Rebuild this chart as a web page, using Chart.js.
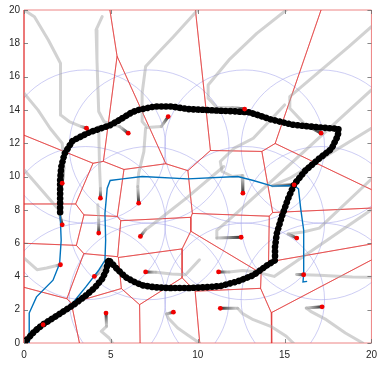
<!DOCTYPE html>
<html>
<head>
<meta charset="utf-8">
<script src="https://cdn.jsdelivr.net/npm/chart.js@4/dist/chart.umd.min.js"></script>
<style>
html,body{margin:0;padding:0;background:#fff;}
#wrap{width:383px;height:366px;}
</style>
</head>
<body>
<div id="wrap"><canvas id="c" width="383" height="366"></canvas></div>
<script>
// Axis ticks
const xTicks = [0, 5, 10, 15, 20];
const yTicks = [0, 2, 4, 6, 8, 10, 12, 14, 16, 18, 20];

// Current agent positions
const agents = [
  [3.6, 12.9], [6.0, 12.6], [8.3, 13.6], [12.7, 14.05], [17.1, 12.6],
  [2.2, 9.6], [4.4, 8.7], [6.6, 8.4], [12.6, 9.0], [15.55, 9.5],
  [2.2, 7.1], [4.3, 6.6], [6.7, 6.4], [12.5, 6.35], [15.7, 6.3],
  [2.1, 4.7], [4.05, 4.0], [7.0, 4.27], [11.2, 4.27], [16.1, 4.1],
  [1.1, 1.1], [4.72, 1.8], [8.6, 1.85], [11.3, 2.08], [17.16, 2.17]
];

// Sensor range circles
const sensorCols = [3.55, 7.2, 12.7, 17.1];
const sensorRows = [11.8, 7.2, 2.6];
const sensingRadius = 4.6;

// Past trajectories of each agent (oldest first, ending at the agent)
const trails = [
  [[0,20],[0.6,19.6],[1.4,18.2],[1.8,17.4],[2.1,16.8],[2.1,13.7],[2.6,13.3],[3.3,13.0],[3.6,12.9]],
  [[4.5,19.6],[4.15,18.8],[4.2,17.0],[4.3,13.9],[4.6,13.3],[5.5,13.0],[6.0,12.6]],
  [[10,20],[8.6,18.4],[7.7,17.4],[7.0,16.6],[6.8,15.0],[6.8,13.3],[7.1,12.95],[7.9,13.0],[8.3,13.6]],
  [[15.1,20],[13.4,18.6],[11.8,17.0],[10.6,15.5],[10.6,14.7],[11.1,14.15],[12.0,14.15],[12.7,14.05]],
  [[20,19.0],[18.7,17.8],[15.3,14.8],[15.3,14.1],[16.2,13.1],[17.1,12.6]],
  [[0,15.0],[0.8,14.0],[1.5,12.9],[2.2,12.0],[2.3,10.5],[2.2,9.6]],
  [[4.3,13.0],[4.35,10.5],[4.4,9.3],[4.4,8.7]],
  [[7.0,12.9],[6.9,11.5],[6.6,10.2],[6.55,9.4],[6.6,8.4]],
  [[15.0,14.3],[13.2,12.3],[12.1,11.7],[11.3,10.9],[11.4,10.3],[12.0,10.0],[12.56,10.06],[12.6,9.0]],
  [[20,12.9],[15.3,9.9],[14.3,9.45],[15.55,9.5]],
  [[0,10.4],[0.5,9.8],[2.0,8.0],[2.2,7.1]],
  [[4.25,8.3],[4.3,7.4],[4.3,6.6]],
  [[11.5,10.6],[9.4,8.75],[8.0,7.6],[7.0,6.8],[6.7,6.4]],
  [[20,15.2],[12.3,7.86],[11.1,6.77],[11.1,6.3],[12.5,6.35]],
  [[20,9.85],[17.0,6.9],[16.06,6.67],[15.2,6.55],[15.7,6.3]],
  [[0,5.1],[0.75,4.4],[1.3,4.5],[1.9,4.65],[2.1,4.7]],
  [[4.6,4.6],[4.3,4.2],[4.05,4.0]],
  [[10.1,5.0],[9.3,4.1],[8.5,4.15],[7.6,4.25],[7.0,4.27]],
  [[20,8.0],[14.4,4.0],[13.2,4.3],[12.6,4.35],[11.8,4.27],[11.2,4.27]],
  [[20,3.95],[18.9,3.97],[17.0,4.07],[15.7,4.12],[16.1,4.1]],
  [[1.1,1.1]],
  [[5.1,0],[4.9,0.3],[4.45,0.7],[4.75,1.0],[4.72,1.8]],
  [[10.1,0],[9.4,0.5],[8.85,0.9],[8.3,1.5],[8.2,1.75],[8.6,1.85]],
  [[15.5,0],[15.1,0.4],[14.2,1.0],[13.2,1.4],[12.56,1.78],[12.3,2.08],[11.3,2.08]],
  [[19.5,0],[18.5,0.6],[17.4,1.4],[16.5,1.9],[16.25,2.1],[17.16,2.17]]
];

// Leader path (black markers)
const leaderPath = [
  [0,0],[0.3,0.35],[0.6,0.7],[1.1,1.12],[1.9,1.65],[2.8,2.25],[3.5,2.8],[4.1,3.35],[4.5,3.85],[4.75,4.4],[4.85,5.0],
  [4.98,4.87],[5.4,4.4],[5.83,3.97],[6.3,3.7],[6.78,3.47],[7.3,3.38],[7.73,3.33],[8.5,3.3],[9.43,3.3],[10.5,3.35],[11.3,3.42],[12.3,3.7],[13.2,4.07],[14.0,4.67],[14.45,4.97],
  [14.45,5.77],[14.55,6.57],[14.83,7.56],[15.2,8.66],[15.55,9.52],
  [16.2,10.36],[16.97,11.06],[17.7,11.66],[18.07,12.46],[18.1,12.86],
  [16.97,12.95],[15.45,13.11],[14.13,13.45],[13.0,13.85],[12.0,13.92],[11.3,13.95],[10.4,14.0],[9.43,14.05],[8.5,14.2],[7.5,14.2],[6.6,14.0],[6.2,13.85],[5.5,13.4],[4.9,13.05],[4.3,12.85],[3.75,12.65],[2.8,12.15],[2.33,11.36],[2.14,10.56],[2.08,9.76],[2.08,8.8],[2.08,7.8]
];

// Reference routes (blue)
const routeA = [
  [2.7,2.27],[3.56,3.37],[4.3,4.37],[4.66,4.97],[4.7,6.17],[4.66,7.77],[4.79,9.3],[4.96,9.76],[5.68,9.86],[6.8,10.0],[9.43,9.86],[12.3,10.0],[13.2,9.76],[14.3,9.42],[15.55,9.46],[15.8,9.26],[15.93,8.06],[16.1,6.77],[16.1,5.77],[16.1,4.17],[16.06,3.67],[16.3,3.7]
];
const routeB = [
  [2.08,7.8],[2.14,6.17],[2.05,4.77],[1.67,3.77],[0.72,2.77],[0.3,1.8],[0.3,0]
];

const XMIN = 0, XMAX = 20, YMIN = 0, YMAX = 20;

// Voronoi cells by clipping the domain box with perpendicular bisectors
function clipHalf(poly, a, b) {
  const mx = (a[0] + b[0]) / 2, my = (a[1] + b[1]) / 2;
  const dx = b[0] - a[0], dy = b[1] - a[1];
  const f = p => (p[0] - mx) * dx + (p[1] - my) * dy;
  const out = [];
  for (let i = 0; i < poly.length; i++) {
    const p = poly[i], q = poly[(i + 1) % poly.length];
    const fp = f(p), fq = f(q);
    if (fp <= 0) out.push(p);
    if ((fp < 0 && fq > 0) || (fp > 0 && fq < 0)) {
      const t = fp / (fp - fq);
      out.push([p[0] + t * (q[0] - p[0]), p[1] + t * (q[1] - p[1])]);
    }
  }
  return out;
}
function voronoiCells(sites) {
  return sites.map((s, i) => {
    let poly = [[XMIN, YMIN], [XMAX, YMIN], [XMAX, YMAX], [XMIN, YMAX]];
    sites.forEach((o, j) => { if (j !== i) poly = clipHalf(poly, s, o); });
    return poly;
  });
}

const canvas = document.getElementById('c');
const ctx2d = canvas.getContext('2d');
const toXY = arr => arr.map(p => ({ x: p[0], y: p[1] }));
const datasets = [];

// red agent markers on top
datasets.push({
  data: toXY(agents), showLine: false, pointRadius: 2.4, pointBorderWidth: 0,
  pointBackgroundColor: 'rgb(240,0,0)', order: 0
});
// leader path: beads along a thinner core line
datasets.push({
  data: toXY(leaderPath), showLine: true, borderColor: '#000', borderWidth: 6.6,
  borderDash: [0.01, 4.6], borderCapStyle: 'round', borderJoinStyle: 'round',
  pointRadius: 0, order: 1
});
datasets.push({
  data: toXY(leaderPath), showLine: true, borderColor: '#000', borderWidth: 4.2,
  borderJoinStyle: 'round', borderCapStyle: 'round', pointRadius: 0, order: 1
});
// blue routes
[routeA, routeB].forEach(r => datasets.push({
  data: toXY(r), showLine: true, borderColor: 'rgb(0,114,189)', borderWidth: 1.4,
  pointRadius: 0, order: 2
}));
// trails: light grey, darkening into the last segment
trails.forEach(t => {
  if (t.length < 2) return;
  const n = t.length;
  datasets.push({
    data: toXY(t), showLine: true, borderColor: 'rgba(165,165,165,0.5)', borderWidth: 3,
    borderJoinStyle: 'round', borderCapStyle: 'round', pointRadius: 0, order: 3,
    segment: {
      borderColor: sc => {
        if (sc.p1DataIndex !== n - 1) return undefined;
        const g = ctx2d.createLinearGradient(sc.p0.x, sc.p0.y, sc.p1.x, sc.p1.y);
        g.addColorStop(0, 'rgba(165,165,165,0.5)');
        g.addColorStop(1, 'rgba(25,25,25,0.95)');
        return g;
      }
    }
  });
});
// Voronoi edges
voronoiCells(agents).forEach(cell => {
  datasets.push({
    data: toXY(cell.concat([cell[0]])), showLine: true, borderColor: 'rgba(225,50,50,0.8)',
    borderWidth: 0.75, pointRadius: 0, order: 4, clip: false
  });
});

// sensor circles underneath everything
const circlePlugin = {
  id: 'sensing',
  beforeDatasetsDraw(chart) {
    const { ctx, chartArea, scales: { x, y } } = chart;
    ctx.save();
    ctx.beginPath();
    ctx.rect(chartArea.left, chartArea.top, chartArea.width, chartArea.height);
    ctx.clip();
    ctx.strokeStyle = 'rgba(165,165,235,0.75)';
    ctx.lineWidth = 0.75;
    const rx = Math.abs(x.getPixelForValue(sensingRadius) - x.getPixelForValue(0));
    const ry = Math.abs(y.getPixelForValue(sensingRadius) - y.getPixelForValue(0));
    sensorRows.forEach(cy => sensorCols.forEach(cx => {
      ctx.beginPath();
      ctx.ellipse(x.getPixelForValue(cx), y.getPixelForValue(cy), rx, ry, 0, 0, Math.PI * 2);
      ctx.stroke();
    }));
    ctx.restore();
  }
};

// inward tick marks on all four sides
const tickPlugin = {
  id: 'inTicks',
  afterDatasetsDraw(chart) {
    const { ctx, chartArea: ca, scales: { x, y } } = chart;
    ctx.save();
    ctx.strokeStyle = '#6a6a6a';
    ctx.lineWidth = 0.8;
    const L = 4;
    ctx.beginPath();
    xTicks.forEach(v => {
      const px = Math.round(x.getPixelForValue(v)) + 0.5;
      ctx.moveTo(px, ca.bottom); ctx.lineTo(px, ca.bottom - L);
      ctx.moveTo(px, ca.top); ctx.lineTo(px, ca.top + L);
    });
    yTicks.forEach(v => {
      const py = Math.round(y.getPixelForValue(v)) + 0.5;
      ctx.moveTo(ca.left, py); ctx.lineTo(ca.left + L, py);
      ctx.moveTo(ca.right, py); ctx.lineTo(ca.right - L, py);
    });
    ctx.stroke();
    ctx.restore();
  }
};

const tickFont = { family: '"Liberation Sans", Arial, sans-serif', size: 10 };
new Chart(canvas, {
  type: 'scatter',
  data: { datasets },
  plugins: [circlePlugin, tickPlugin],
  options: {
    responsive: false,
    animation: false,
    devicePixelRatio: 1,
    layout: { padding: { top: 9, right: 7, left: 0, bottom: 0 } },
    plugins: { legend: { display: false }, tooltip: { enabled: false } },
    scales: {
      x: {
        type: 'linear', min: XMIN, max: XMAX,
        afterBuildTicks: s => { s.ticks = xTicks.map(v => ({ value: v })); },
        afterFit: s => { s.height = 23; },
        grid: { display: false, drawTicks: false },
        border: { display: false },
        ticks: { padding: 6, color: '#262626', font: tickFont, maxRotation: 0 }
      },
      y: {
        type: 'linear', min: YMIN, max: YMAX,
        afterBuildTicks: s => { s.ticks = yTicks.map(v => ({ value: v })); },
        afterFit: s => { s.width = 24; },
        grid: { display: false, drawTicks: false },
        border: { display: false },
        ticks: { padding: 4, color: '#262626', font: tickFont }
      }
    }
  }
});
</script>
</body>
</html>
